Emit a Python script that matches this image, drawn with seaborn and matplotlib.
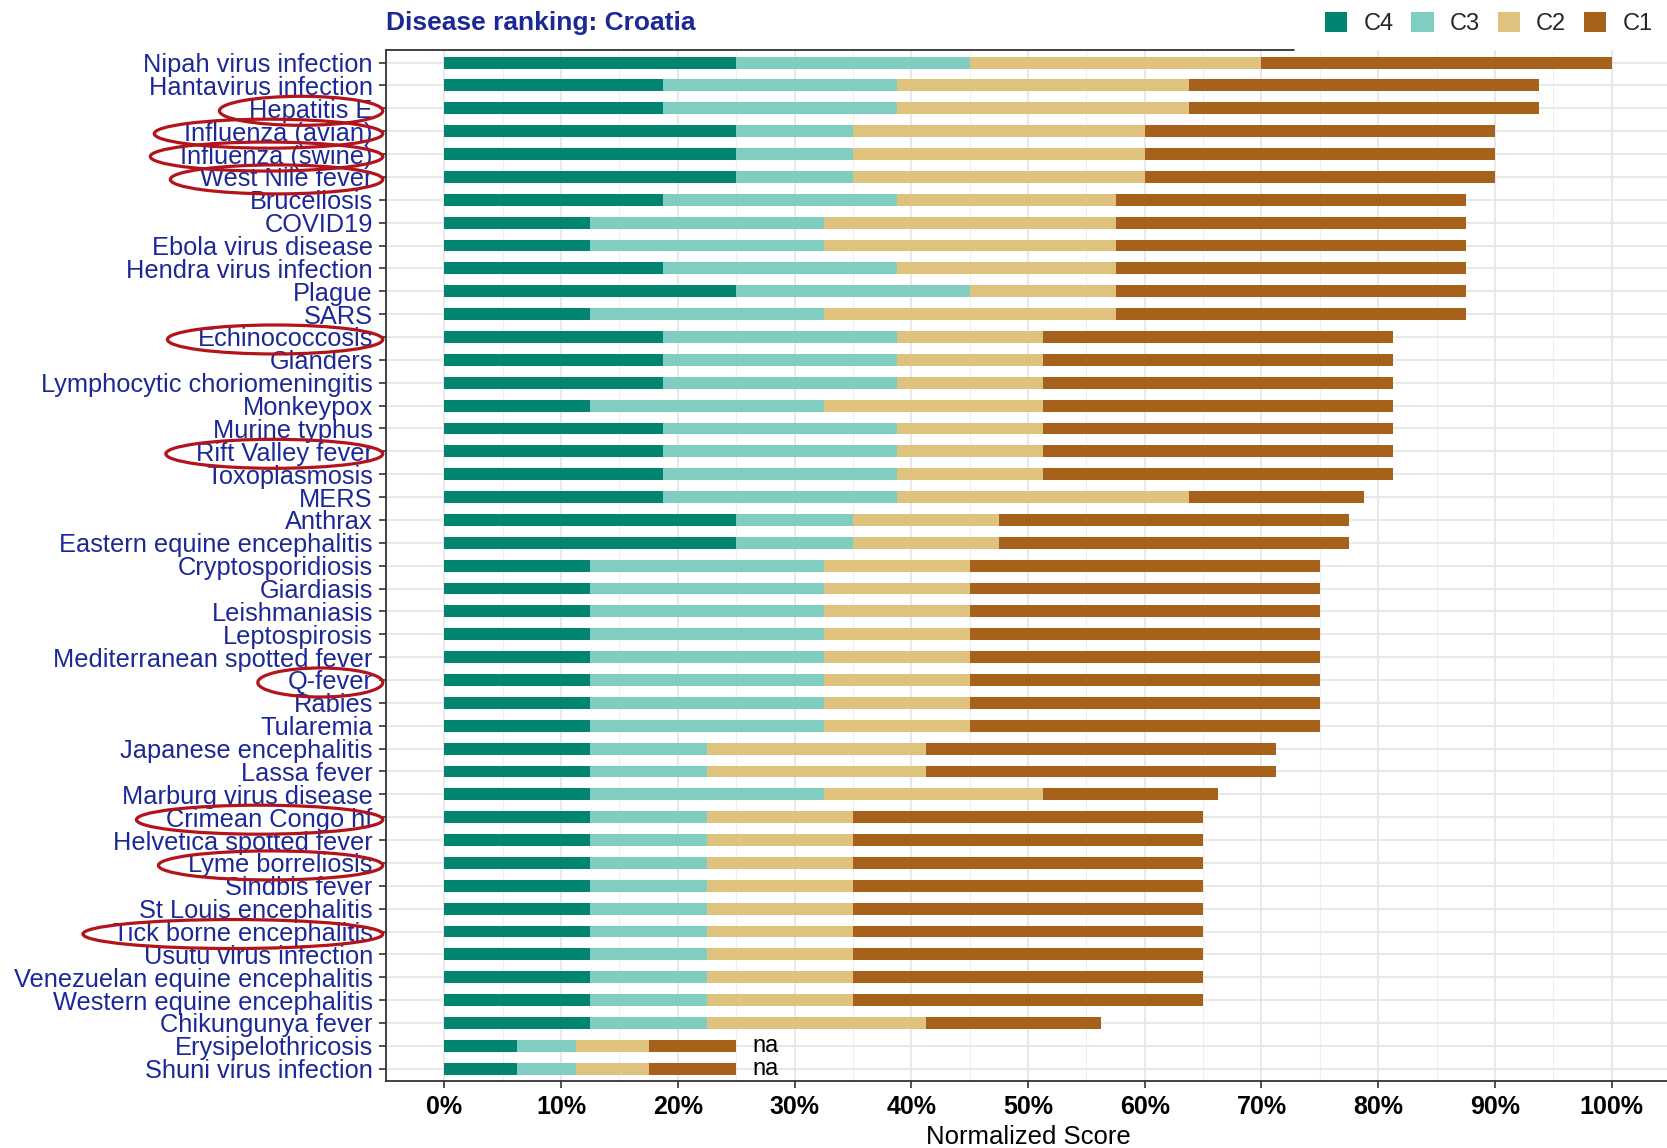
import numpy as np
import pandas as pd
import matplotlib
matplotlib.use("Agg")
import matplotlib.pyplot as plt
from matplotlib.patches import Patch, Ellipse
from matplotlib.ticker import FuncFormatter, FixedLocator
import seaborn as sns

# ---------------- data ----------------
diseases = [
    "Nipah virus infection", "Hantavirus infection", "Hepatitis E", "Influenza (avian)",
    "Influenza (swine)", "West Nile fever", "Brucellosis", "COVID19", "Ebola virus disease",
    "Hendra virus infection", "Plague", "SARS", "Echinococcosis", "Glanders",
    "Lymphocytic choriomeningitis", "Monkeypox", "Murine typhus", "Rift Valley fever",
    "Toxoplasmosis", "MERS", "Anthrax", "Eastern equine encephalitis", "Cryptosporidiosis",
    "Giardiasis", "Leishmaniasis", "Leptospirosis", "Mediterranean spotted fever", "Q-fever",
    "Rabies", "Tularemia", "Japanese encephalitis", "Lassa fever", "Marburg virus disease",
    "Crimean Congo hf", "Helvetica spotted fever", "Lyme borreliosis", "Sindbis fever",
    "St Louis encephalitis", "Tick borne encephalitis", "Usutu virus infection",
    "Venezuelan equine encephalitis", "Western equine encephalitis", "Chikungunya fever",
    "Erysipelothricosis", "Shuni virus infection",
]
c4 = [25, 18.75, 18.75, 25, 25, 25, 18.75, 12.5, 12.5, 18.75, 25, 12.5, 18.75, 18.75,
      18.75, 12.5, 18.75, 18.75, 18.75, 18.75, 25, 25, 12.5, 12.5, 12.5, 12.5, 12.5, 12.5,
      12.5, 12.5, 12.5, 12.5, 12.5, 12.5, 12.5, 12.5, 12.5, 12.5, 12.5, 12.5, 12.5, 12.5,
      12.5, 6.25, 6.25]
c3 = [20, 20, 20, 10, 10, 10, 20, 20, 20, 20, 20, 20, 20, 20,
      20, 20, 20, 20, 20, 20, 10, 10, 20, 20, 20, 20, 20, 20,
      20, 20, 10, 10, 20, 10, 10, 10, 10, 10, 10, 10, 10, 10,
      10, 5, 5]
c2 = [25, 25, 25, 25, 25, 25, 18.75, 25, 25, 18.75, 12.5, 25, 12.5, 12.5,
      12.5, 18.75, 12.5, 12.5, 12.5, 25, 12.5, 12.5, 12.5, 12.5, 12.5, 12.5, 12.5, 12.5,
      12.5, 12.5, 18.75, 18.75, 18.75, 12.5, 12.5, 12.5, 12.5, 12.5, 12.5, 12.5, 12.5, 12.5,
      18.75, 6.25, 6.25]
c1 = [30, 30, 30, 30, 30, 30, 30, 30, 30, 30, 30, 30, 30, 30,
      30, 30, 30, 30, 30, 15, 30, 30, 30, 30, 30, 30, 30, 30,
      30, 30, 30, 30, 15, 30, 30, 30, 30, 30, 30, 30, 30, 30,
      15, 7.5, 7.5]
na_diseases = ["Erysipelothricosis", "Shuni virus infection"]
highlighted = ["Hepatitis E", "Influenza (avian)", "Influenza (swine)", "West Nile fever",
               "Echinococcosis", "Rift Valley fever", "Q-fever", "Crimean Congo hf",
               "Lyme borreliosis", "Tick borne encephalitis"]
segments = ["C4", "C3", "C2", "C1"]
palette = {"C4": "#018571", "C3": "#80cdc1", "C2": "#dfc27d", "C1": "#a6611a"}
x_ticks = list(range(0, 101, 10))
title = "Disease ranking: Croatia"
x_label = "Normalized Score"

# ---------------- style ----------------
sns.set_theme(style="white")
plt.rcParams["font.family"] = ["Liberation Sans", "DejaVu Sans"]
label_blue = "#1c2896"
border = "#333333"

df = pd.DataFrame({"disease": diseases, "C4": c4, "C3": c3, "C2": c2, "C1": c1})
cum = df[segments].cumsum(axis=1)

W, H = 1667, 1148
fig = plt.figure(figsize=(W / 100, H / 100), dpi=100)
ax = fig.add_axes([386 / W, 1 - 1081.3 / H, 1284 / W, (1081.3 - 50) / H])

# stacked bars: draw cumulative totals from the outermost segment inwards
for seg in reversed(segments):
    sns.barplot(x=cum[seg].values, y=df["disease"].values, color=palette[seg],
                saturation=1, width=0.52, orient="h", errorbar=None,
                linewidth=0, ax=ax)

n = len(diseases)
ax.set_xlim(-5, 105)
ax.set_ylim(n - 1 + 0.55, -0.55)
ax.set_xlabel("")
ax.set_ylabel("")

# grid
ax.set_axisbelow(True)
ax.xaxis.set_major_locator(FixedLocator(x_ticks))
ax.xaxis.set_minor_locator(FixedLocator([t + 5 for t in [-10] + x_ticks]))
ax.grid(axis="x", which="major", color="#E6E6E6", lw=1.3)
ax.grid(axis="x", which="minor", color="#EFEFEF", lw=0.8)
ax.grid(axis="y", which="major", color="#E6E6E6", lw=1.3)
ax.xaxis.set_major_formatter(FuncFormatter(lambda v, p: f"{v:.0f}%"))

for s in ["top", "right"]:
    ax.spines[s].set_visible(False)
for s in ["left", "bottom"]:
    ax.spines[s].set_color(border)
    ax.spines[s].set_linewidth(1.3)
# top border partially hidden behind legend box
ax.plot([0, (1294 - 386) / 1284], [1, 1], transform=ax.transAxes, color=border,
        lw=1.3, clip_on=False)

ax.tick_params(axis="both", which="major", length=5, width=1.2, color=border,
               bottom=True, left=True)
ax.tick_params(axis="both", which="minor", length=0)
ax.tick_params(axis="y", labelsize=18.3, labelcolor=label_blue, pad=4.5)
ax.tick_params(axis="x", labelsize=18, labelcolor="black", pad=5)
for lab in ax.get_xticklabels():
    lab.set_fontweight("bold")

# "na" labels
for name in na_diseases:
    i = diseases.index(name)
    ax.text(cum.loc[i, "C1"] + 1.4, i, "na", va="center", ha="left",
            fontsize=17, color="black")

# title and axis title
fig.text(386 / W, 1 - 23 / H, title, fontsize=19, fontweight="bold",
         color=label_blue, ha="left", va="center")
fig.text((386 + 1670) / 2 / W, 1 - 1137 / H, x_label, fontsize=18.5,
         color="black", ha="center", va="center")

# legend
handles = [Patch(facecolor=palette[s], edgecolor="none", label=s) for s in segments]
fig.legend(handles=handles, labels=segments, ncol=4, loc="center left",
           bbox_to_anchor=(1325 / W, 1 - 23.4 / H), frameon=False, fontsize=17,
           handlelength=0.95, handleheight=0.95, handletextpad=0.68,
           columnspacing=0.75, borderpad=0, borderaxespad=0)

# red hand-drawn style ellipses around highlighted labels
fig.canvas.draw()
renderer = fig.canvas.get_renderer()
ticklabels = {t.get_text(): t for t in ax.get_yticklabels()}
for name in highlighted:
    bb = ticklabels[name].get_window_extent(renderer)
    x0, x1 = bb.x0 - 30, bb.x1 + 10
    yc = (bb.y0 + bb.y1) / 2
    e = Ellipse(((x0 + x1) / 2 / W, yc / H), (x1 - x0) / W, 29 / H,
                transform=fig.transFigure, fill=False, edgecolor="#b3141c",
                lw=2.3, zorder=10)
    fig.add_artist(e)

fig.savefig("out.png", dpi=100)
